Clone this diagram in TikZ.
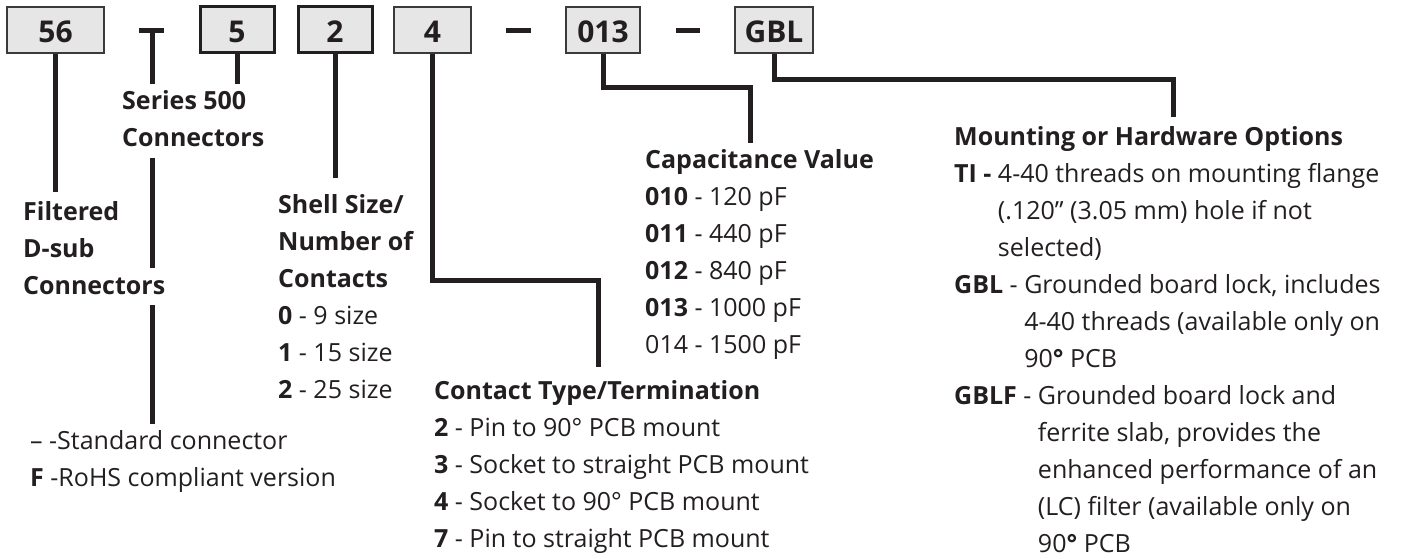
\documentclass[tikz,border=0pt]{standalone}
\usepackage{fontspec}
\setmainfont{Open Sans}
\definecolor{ink}{HTML}{231F20}
\definecolor{boxfill}{HTML}{E6E6E6}
\definecolor{boxline}{HTML}{3A3A3A}
\newcommand{\lblfont}{\fontsize{25}{37}\selectfont}
\newcommand{\whitebg}[1]{{\setlength{\fboxsep}{0pt}\colorbox{white}{\strut #1}}}
\pgfdeclarelayer{bg}
\pgfsetlayers{bg,main}
\begin{document}
\begin{tikzpicture}[x=1pt,y=-1pt,
  conn/.style={draw=ink, line width=5pt, line cap=butt, line join=miter},
  codebox/.style={draw=boxline, fill=boxfill, line width=1.3pt, minimum height=46pt,
    inner sep=0pt, text height=26pt, text depth=0pt,
    font=\fontsize{30}{30}\selectfont\bfseries, text=ink},
  thickbox/.style={codebox, draw=ink, line width=3pt},
  lab/.style={anchor=base west, inner sep=0pt, text=ink, font=\lblfont}]
\useasboundingbox (0,0) rectangle (1408,559);

% code boxes
\node[codebox, minimum width=97pt] (b56) at (55.5,30) {56};
\node[thickbox, minimum width=74pt] (b5) at (237,30) {5};
\node[thickbox, minimum width=74pt] (b2) at (335,30) {2};
\node[codebox, minimum width=77pt] (b4) at (432.5,30) {4};
\node[codebox, minimum width=74pt] (b013) at (603,30) {013};
\node[codebox, minimum width=78pt] (bGBL) at (774,30) {GBL};

% labels
\node[lab] (filt) at (23,220) {\begin{tabular}[t]{@{}l@{}}\bfseries Filtered\\\bfseries D-sub\\\bfseries\whitebg{Connectors\hspace{3pt}}\end{tabular}};
\node[lab, fill=white] (ser) at (122,110) {\begin{tabular}[t]{@{}l@{}}\bfseries Series 500\\\bfseries Connectors\end{tabular}};
\node[lab] (shell) at (278,213) {\begin{tabular}[t]{@{}l@{}}\bfseries Shell Size/\\\bfseries Number of\\\bfseries Contacts\\
  \textbf{0} - 9 size\\\textbf{1} - 15 size\\\textbf{2} - 25 size\end{tabular}};
\node[lab] (cap) at (645,168) {\begin{tabular}[t]{@{}l@{}}\bfseries Capacitance Value\\
  \textbf{010} - 120 pF\\\textbf{011} - 440 pF\\\textbf{012} - 840 pF\\\textbf{013} - 1000 pF\\014 - 1500 pF\end{tabular}};
\node[lab] (ctype) at (434,399) {\begin{tabular}[t]{@{}l@{}}\bfseries Contact Type/Termination\\
  \textbf{2} - Pin to 90° PCB mount\\\textbf{3} - Socket to straight PCB mount\\
  \textbf{4} - Socket to 90° PCB mount\\\textbf{7} - Pin to straight PCB mount\end{tabular}};
\node[lab] (mount) at (954,146) {\begin{tabular}[t]{@{}l@{}}\bfseries Mounting or Hardware Options\\
  \textbf{TI -} 4-40 threads on mounting flange\\
  \phantom{\textbf{TI -} }(.120” (3.05 mm) hole if not\\
  \phantom{\textbf{TI -} }selected)\\
  \textbf{GBL} - Grounded board lock, includes\\
  \phantom{\textbf{GBL} - }4-40 threads (available only on\\
  \phantom{\textbf{GBL} - }90\textbf{°} PCB\\
  \textbf{GBLF} - Grounded board lock and\\
  \phantom{\textbf{GBLF} - }ferrite slab, provides the\\
  \phantom{\textbf{GBLF} - }enhanced performance of an\\
  \phantom{\textbf{GBLF} - }(LC) filter (available only on\\
  \phantom{\textbf{GBLF} - }90\textbf{°} PCB\end{tabular}};
\node[lab] (std) at (30,449) {\begin{tabular}[t]{@{}l@{}}– -Standard connector\\\textbf{F} -RoHS compliant version\end{tabular}};

% connector end points
\coordinate (e56) at (55.5,192);
\coordinate (tL) at (139,30.5);
\coordinate (tR) at (164,30.5);
\coordinate (tM) at (152,28);
\coordinate (eT) at (152,424);
\coordinate (e5) at (237,88);
\coordinate (e2) at (335,178);
\coordinate (c4) at (598,280);
\coordinate (e4) at (598,367);
\coordinate (c013) at (750,88);
\coordinate (e013) at (750,143);
\coordinate (cG) at (1173,80);
\coordinate (eG) at (1173,117);
\coordinate (d1L) at (506,30.5);
\coordinate (d1R) at (531,30.5);
\coordinate (d2L) at (676,30.5);
\coordinate (d2R) at (700,30.5);

\begin{pgfonlayer}{bg}
\fill[white] (0,0) rectangle (1408,559);
\draw[conn] (b56) -- (e56);
\draw[conn] (tL) -- (tR);
\draw[conn] (tM) -- (eT);
\draw[conn] (b5) -- (e5);
\draw[conn] (b2) -- (e2);
\draw[conn] (b4) |- (c4) -- (e4);
\draw[conn] (b013) |- (c013) -- (e013);
\draw[conn] (bGBL) |- (cG) -- (eG);
\draw[conn] (d1L) -- (d1R);
\draw[conn] (d2L) -- (d2R);
\end{pgfonlayer}
\end{tikzpicture}
\end{document}
